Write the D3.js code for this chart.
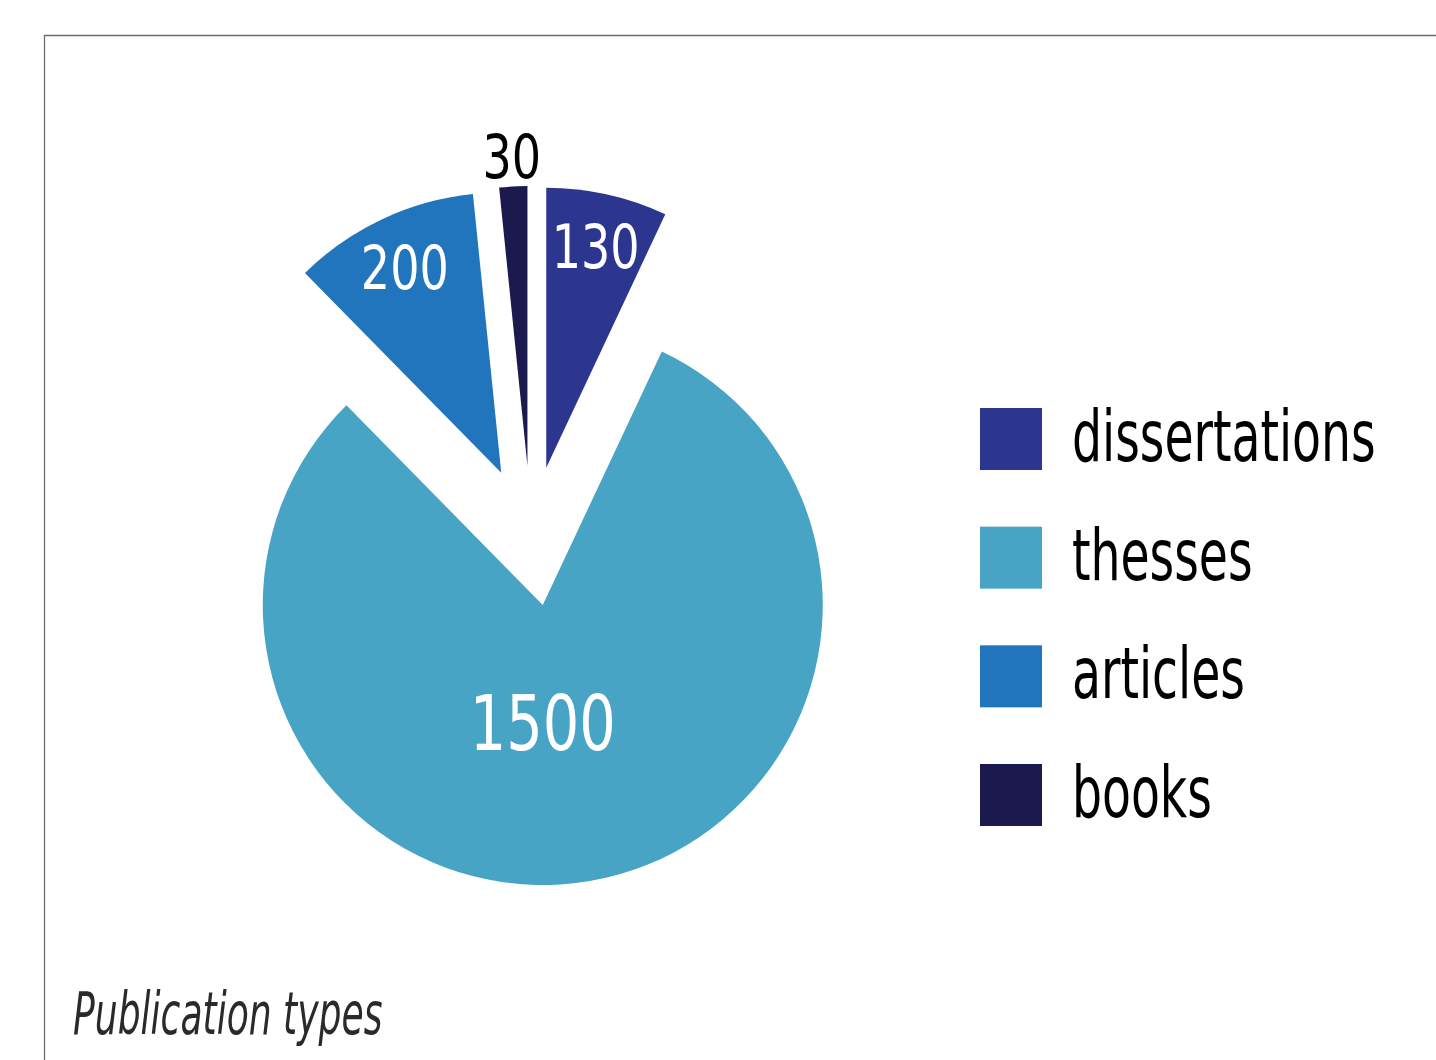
<!DOCTYPE html>
<html>
<head>
<meta charset="utf-8">
<script src="https://d3js.org/d3.v7.min.js"></script>
<style>
  body { margin: 0; background: #fff; }
  text { font-family: "Liberation Sans Narrow", "DejaVu Sans Condensed", "Liberation Sans", sans-serif; }
</style>
</head>
<body>
<div id="chart"></div>
<script>
"use strict";
// data
var categories = ["dissertations", "thesses", "articles", "books"];
var counts = [130, 1500, 200, 30];
var colors = ["#2c368f", "#47a4c4", "#2075bc", "#1c194f"];
var title = "Publication types";

var W = 1436, H = 1060;
var cx = 531, cy = 536, R = 280, explode = 70;
// the original face is a condensed one, so squeeze the glyphs sideways
var squeezeNum = 0.84, squeezeLegend = 0.73, squeezeTitle = 0.68;

var svg = d3.select("#chart").append("svg")
    .attr("width", W).attr("height", H);

// frame, cut off at right and bottom like the original
svg.append("path")
    .attr("d", "M" + W + ",35.5H44.5V" + H)
    .attr("fill", "none")
    .attr("stroke", "#6e6e6e")
    .attr("stroke-width", 1.3);

var color = d3.scaleOrdinal().domain(categories).range(colors);

var rows = categories.map(function (c, i) { return { name: c, value: counts[i] }; });
var pie = d3.pie().sort(null).value(function (d) { return d.value; });
var arcs = pie(rows);
var arc = d3.arc().innerRadius(0).outerRadius(R);

function mid(d) { return (d.startAngle + d.endAngle) / 2; }
function shift(d) {
    var a = mid(d);
    return [cx + explode * Math.sin(a), cy - explode * Math.cos(a)];
}

var g = svg.append("g");
var slices = g.selectAll("g.slice")
    .data(arcs)
    .enter().append("g")
    .attr("class", "slice")
    .attr("transform", function (d) { var p = shift(d); return "translate(" + p[0] + "," + p[1] + ")"; });

slices.append("path")
    .attr("d", arc)
    .attr("fill", function (d) { return color(d.data.name); });

var biggest = d3.max(counts);
slices.append("text")
    .attr("transform", function (d) {
        var a, r;
        var small = (d.endAngle - d.startAngle) < 0.2;
        if (d.data.value === biggest) { a = Math.PI; r = 0.42 * R; }
        else if (small) { a = mid(d); r = R + 30; }
        else { a = mid(d); r = 0.81 * R; }
        return "translate(" + (r * Math.sin(a)) + "," + (-r * Math.cos(a)) + ") scale(" + squeezeNum + ",1)";
    })
    .attr("text-anchor", "middle")
    .attr("dy", "0.36em")
    .attr("font-size", function (d) { return d.data.value === biggest ? 76 : 61; })
    .attr("fill", function (d) { return (d.endAngle - d.startAngle) < 0.2 ? "#000" : "#fff"; })
    .text(function (d) { return d.data.value; });

// legend
var ly = d3.scalePoint().domain(categories).range([439, 795]);
var legend = svg.selectAll("g.legend")
    .data(categories)
    .enter().append("g")
    .attr("class", "legend")
    .attr("transform", function (d) { return "translate(980," + ly(d) + ")"; });

legend.append("rect")
    .attr("x", 0).attr("y", -31)
    .attr("width", 62).attr("height", 62)
    .attr("fill", function (d) { return color(d); });

legend.append("text")
    .attr("transform", "translate(92,22) scale(" + squeezeLegend + ",1)")
    .attr("font-size", 72)
    .attr("fill", "#000")
    .text(function (d) { return d; });

svg.append("text")
    .attr("transform", "translate(73,1034) scale(" + squeezeTitle + ",1)")
    .attr("font-size", 59)
    .attr("font-style", "italic")
    .attr("font-weight", 300)
    .attr("fill", "#2a2a2a")
    .text(title);
</script>
</body>
</html>
